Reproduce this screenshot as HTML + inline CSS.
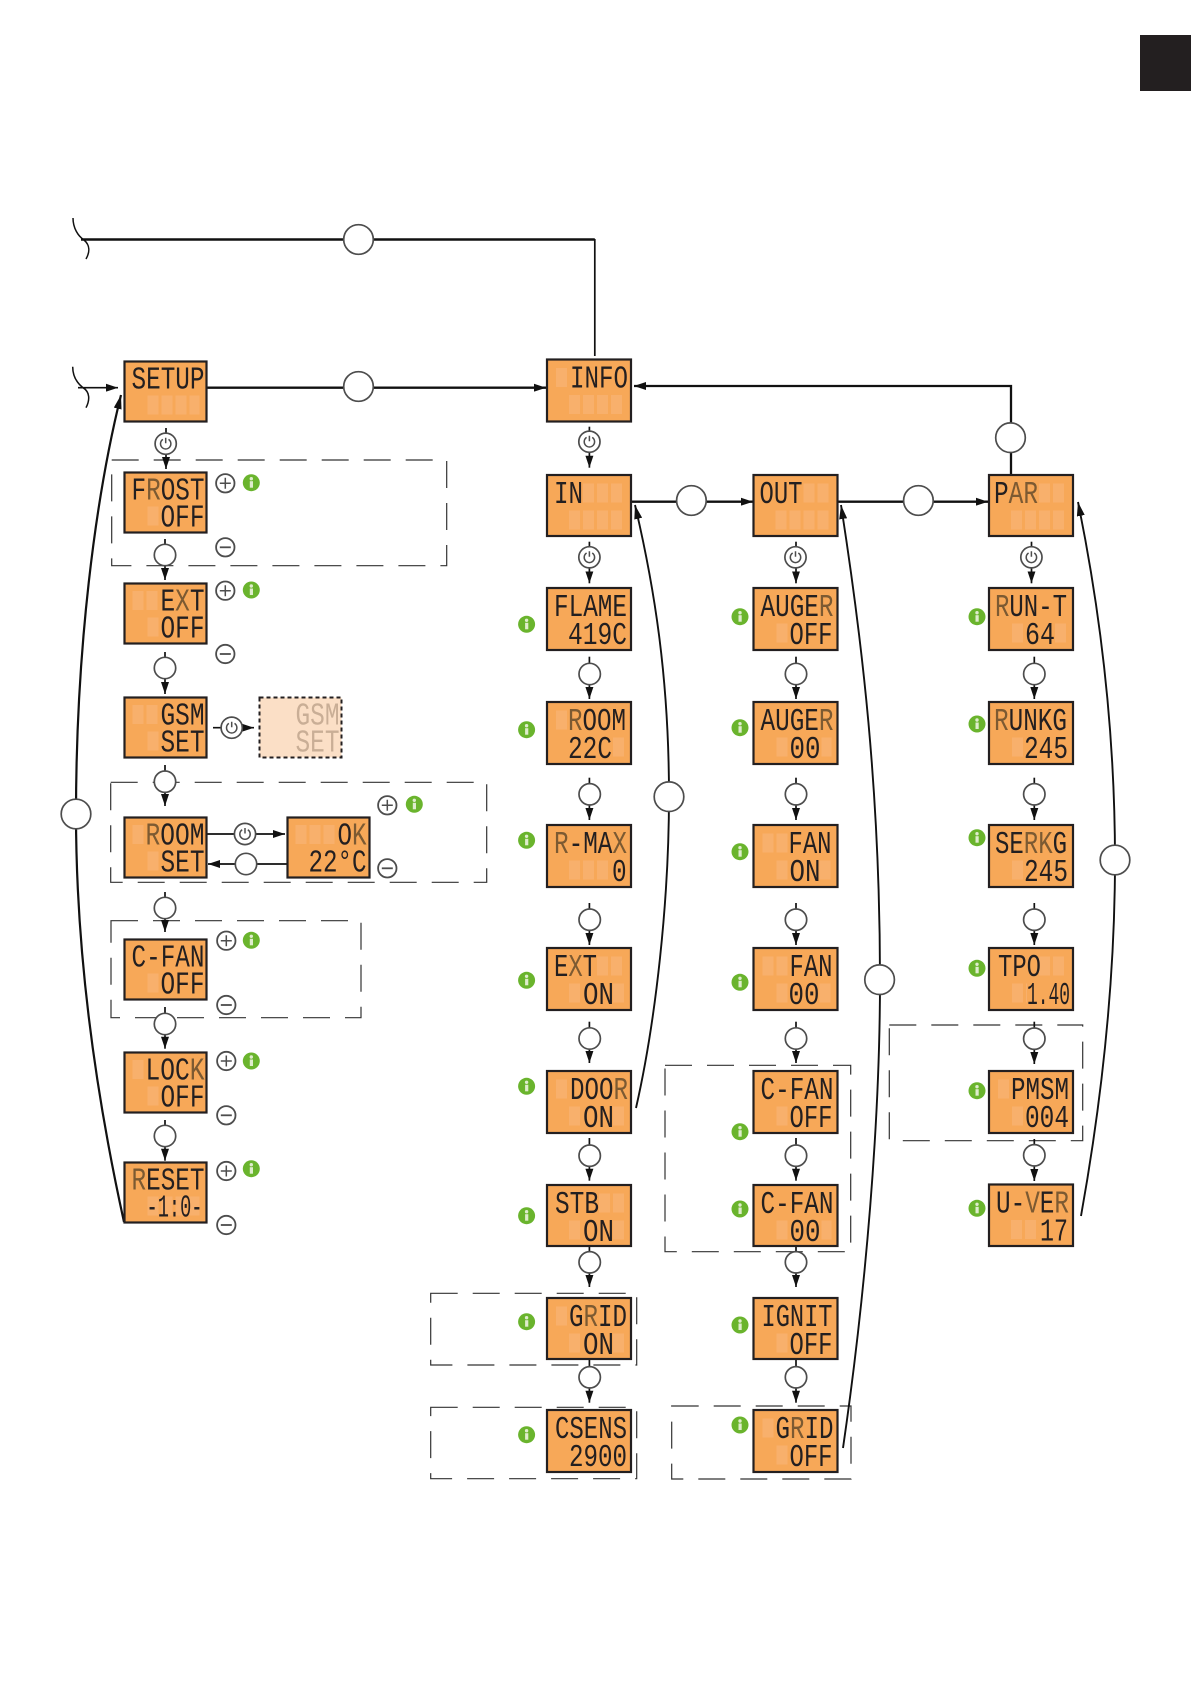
<!DOCTYPE html>
<html lang="en">
<head>
<meta charset="utf-8">
<title>Menu flow diagram</title>
<style>
html,body{margin:0;padding:0;background:#fff}
svg{display:block}
.box{fill:#f7a858;stroke:#231f20;stroke-width:2.2}
.g{fill:none;stroke:#f8b06c;stroke-width:19;stroke-dasharray:11 3}
.l{font-family:"Liberation Mono",monospace;font-size:31.500px;fill:#231f20}
.b{fill:#7c5a32}
.w{fill:none;stroke:#111;stroke-width:1.7}
.t{fill:none;stroke:#111;stroke-width:2.3}
.c{fill:#fff;stroke:#4d4d4d;stroke-width:1.7}
.d{fill:none;stroke:#333;stroke-width:1.2;stroke-dasharray:27 15}
</style>
</head>
<body>
<svg xmlns="http://www.w3.org/2000/svg" width="1191" height="1684" viewBox="0 0 1191 1684">
<defs>
<marker id="a" markerUnits="userSpaceOnUse" viewBox="0 0 12 8" refX="12" refY="4" markerWidth="12" markerHeight="8" orient="auto"><path d="M0 0L12 4L0 8Z" fill="#111"/></marker>
<marker id="e" markerUnits="userSpaceOnUse" viewBox="0 0 14 8" refX="14" refY="4" markerWidth="14" markerHeight="8" orient="auto"><path d="M0 0L14 4L0 8Z" fill="#111"/></marker>
<g id="p"><circle r="10.6" class="c"/><path d="M-2.800-4.300A5.200 5.200 0 1 0 2.800-4.300M0-6V-.5" fill="none" stroke="#4d4d4d" stroke-width="1.500"/></g>
<g id="n"><circle r="10.7" class="c"/></g>
<g id="B"><circle r="14.8" class="c"/></g>
<g id="plus"><circle r="9.2" fill="#fff" stroke="#4d4d4d" stroke-width="1.8"/><path d="M-5.500 0H5.500M0-5.500V5.500" stroke="#4d4d4d" stroke-width="1.5"/></g>
<g id="minus"><circle r="9.2" fill="#fff" stroke="#4d4d4d" stroke-width="1.8"/><path d="M-5.500 0H5.500" stroke="#4d4d4d" stroke-width="1.800"/></g>
<g id="i"><circle r="8.500" fill="#6ab42d"/><rect x="-1.500" y="-1.500" width="3.200" height="6.500" fill="#dfeccd"/><circle cy="-4" r="1.700" fill="#dfeccd"/></g>
</defs>

<rect x="1140" y="35" width="51" height="56" fill="#231f20"/>

<!-- dashed groups -->
<rect class="d" x="111.700" y="460" width="335" height="105.700"/>
<rect class="d" x="110.700" y="782.300" width="376" height="100"/>
<rect class="d" x="111" y="920.700" width="250" height="97"/>
<rect class="d" x="430.700" y="1293.300" width="206" height="71.700"/>
<rect class="d" x="430.700" y="1407.300" width="206" height="71.400"/>
<rect class="d" x="665" y="1065.300" width="185.700" height="186.400"/>
<rect class="d" x="671.700" y="1406" width="179.300" height="73"/>
<rect class="d" x="889.300" y="1025" width="193.400" height="115.700"/>

<!-- long connectors -->
<path d="M73 218C73 228 78 236 84 240C90 245 90 252 86 259" fill="none" stroke="#111" stroke-width="1.500"/>
<path d="M72.700 366.700C72.700 376 77 383 83 387.700C90 392 90 400 86 407.700" fill="none" stroke="#111" stroke-width="1.500"/>
<path d="M81 239.500H594.800" fill="none" stroke="#111" stroke-width="2.600"/>
<path d="M594.800 239V356" class="w"/>
<path d="M78 387.700H118" class="w" marker-end="url(#a)"/>
<path d="M207 387.700H546" class="t" marker-end="url(#a)"/>
<path d="M1011 475V386H634" class="t" marker-end="url(#a)"/>
<path d="M632 501.700H753" class="t" marker-end="url(#a)"/>
<path d="M838 501.700H988" class="t" marker-end="url(#a)"/>
<path d="M124 1222C95 1090 76 950 76 814C76 650 95 500 121 395" fill="none" stroke="#111" stroke-width="2.200" marker-end="url(#e)"/>
<path d="M636 1108C656 1020 669 900 669 796C669 680 655 590 635 505" fill="none" stroke="#111" stroke-width="1.900" marker-end="url(#e)"/>
<path d="M843 1448C866 1290 880 1120 880 980C880 790 862 640 841 505" fill="none" stroke="#111" stroke-width="1.900" marker-end="url(#e)"/>
<path d="M1081 1216C1100 1110 1115 990 1115 860C1115 720 1098 600 1078 502" fill="none" stroke="#111" stroke-width="1.900" marker-end="url(#e)"/>

<!-- short connectors col 1 -->
<g class="w">
<path d="M166 428V469" marker-end="url(#a)"/><path d="M165 539V580" marker-end="url(#a)"/><path d="M165 652V694" marker-end="url(#a)"/><path d="M165 765V806" marker-end="url(#a)"/><path d="M165 892V932" marker-end="url(#a)"/><path d="M165 1007V1048.700" marker-end="url(#a)"/><path d="M165 1120V1160.700" marker-end="url(#a)"/>
<path d="M213 727.700H254" marker-end="url(#a)"/><path d="M206 834H285" marker-end="url(#a)"/><path d="M287 864H208" marker-end="url(#a)"/>
<!-- col 2 -->
<path d="M589.400 426.700V467.700" marker-end="url(#a)"/><path d="M589.400 541.700V583.300" marker-end="url(#a)"/><path d="M589.400 656.700V699" marker-end="url(#a)"/><path d="M589.400 777.700V820" marker-end="url(#a)"/><path d="M589.400 903V945" marker-end="url(#a)"/><path d="M589.400 1021.700V1063" marker-end="url(#a)"/><path d="M589.400 1138V1180.700" marker-end="url(#a)"/><path d="M589.400 1246V1287" marker-end="url(#a)"/><path d="M589.400 1359V1402.700" marker-end="url(#a)"/>
<!-- col 3 -->
<path d="M796 541.700V583.300" marker-end="url(#a)"/><path d="M796 656.700V699" marker-end="url(#a)"/><path d="M796 777.700V820" marker-end="url(#a)"/><path d="M796 903V945" marker-end="url(#a)"/><path d="M796 1021.700V1063" marker-end="url(#a)"/><path d="M796 1138V1180.700" marker-end="url(#a)"/><path d="M796 1246V1287" marker-end="url(#a)"/><path d="M796 1359V1402.700" marker-end="url(#a)"/>
<!-- col 4 -->
<path d="M1031.500 541.700V583.300" marker-end="url(#a)"/><path d="M1034.300 656.700V699" marker-end="url(#a)"/><path d="M1034.300 777.700V820" marker-end="url(#a)"/><path d="M1034.300 903V945" marker-end="url(#a)"/><path d="M1034.300 1021.700V1064" marker-end="url(#a)"/><path d="M1034.300 1139V1181" marker-end="url(#a)"/>
</g>

<!-- big circles -->
<use href="#B" x="358.500" y="239.500"/><use href="#B" x="358.500" y="386.500"/><use href="#B" x="1010.500" y="437.700"/><use href="#B" x="691.400" y="500.500"/><use href="#B" x="918.400" y="500.500"/><use href="#B" x="76" y="814"/><use href="#B" x="669" y="796.700"/><use href="#B" x="879.600" y="979.700"/><use href="#B" x="1115" y="860"/>

<!-- power circles -->
<use href="#p" x="165.700" y="443.700"/><use href="#p" x="231.700" y="727.700"/><use href="#p" x="245" y="834"/><use href="#p" x="589.400" y="441.700"/><use href="#p" x="589.400" y="557.300"/><use href="#p" x="795.500" y="557.300"/><use href="#p" x="1031.400" y="557.300"/>

<!-- small circles -->
<use href="#n" x="165" y="555"/><use href="#n" x="165" y="668"/><use href="#n" x="165" y="781.700"/><use href="#n" x="165" y="908"/><use href="#n" x="165" y="1024"/><use href="#n" x="165" y="1136"/><use href="#n" x="246" y="864"/>
<use href="#n" x="589.700" y="674"/><use href="#n" x="589.700" y="794.300"/><use href="#n" x="589.700" y="919.700"/><use href="#n" x="589.700" y="1038.500"/><use href="#n" x="589.700" y="1155.700"/><use href="#n" x="589.700" y="1262.300"/><use href="#n" x="589.700" y="1377.300"/>
<use href="#n" x="796" y="674"/><use href="#n" x="796" y="794.300"/><use href="#n" x="796" y="919.700"/><use href="#n" x="796" y="1038.500"/><use href="#n" x="796" y="1155.700"/><use href="#n" x="796" y="1262.300"/><use href="#n" x="796" y="1377.300"/>
<use href="#n" x="1034.300" y="674"/><use href="#n" x="1034.300" y="794.300"/><use href="#n" x="1034.300" y="919.700"/><use href="#n" x="1034.300" y="1038.700"/><use href="#n" x="1034.300" y="1155.300"/>

<!-- plus / minus -->
<use href="#plus" x="225.300" y="483.300"/><use href="#minus" x="225.300" y="547.300"/><use href="#plus" x="225.300" y="590.700"/><use href="#minus" x="225.300" y="654"/><use href="#plus" x="387.300" y="805.300"/><use href="#minus" x="387.300" y="868.300"/><use href="#plus" x="226.300" y="940.700"/><use href="#minus" x="226.300" y="1005"/><use href="#plus" x="226.300" y="1061"/><use href="#minus" x="226.300" y="1115.300"/><use href="#plus" x="226.300" y="1171"/><use href="#minus" x="226.300" y="1225"/>

<!-- info -->
<use href="#i" x="251.300" y="482.700"/><use href="#i" x="251.300" y="590"/><use href="#i" x="414.300" y="804.300"/><use href="#i" x="251.300" y="940.300"/><use href="#i" x="251.300" y="1061"/><use href="#i" x="251.300" y="1168.700"/>
<use href="#i" x="526.600" y="624.300"/><use href="#i" x="526.600" y="729.700"/><use href="#i" x="526.600" y="840.300"/><use href="#i" x="526.600" y="980.300"/><use href="#i" x="526.600" y="1086.300"/><use href="#i" x="526.600" y="1215.700"/><use href="#i" x="526.600" y="1321.700"/><use href="#i" x="526.600" y="1434.700"/>
<use href="#i" x="740" y="616.700"/><use href="#i" x="740" y="727.700"/><use href="#i" x="740" y="851.700"/><use href="#i" x="740" y="982.300"/><use href="#i" x="740" y="1131.700"/><use href="#i" x="740" y="1209"/><use href="#i" x="740" y="1325"/><use href="#i" x="740" y="1425"/>
<use href="#i" x="977" y="616.700"/><use href="#i" x="977" y="724"/><use href="#i" x="977" y="837.700"/><use href="#i" x="977" y="968.300"/><use href="#i" x="977" y="1090.700"/><use href="#i" x="977" y="1208.300"/>

<!-- column 1 boxes -->
<g transform="translate(124.500 361.500)"><rect class="box" width="82" height="60"/><path class="g" d="M23 43.500H75"/><text class="l" x="7" y="27" textLength="73" lengthAdjust="spacingAndGlyphs">SETUP</text></g>
<g transform="translate(124.500 472.500)"><rect class="box" width="82" height="60"/><path class="g" d="M23 43.500H50"/><text class="l" x="7" y="27" textLength="73" lengthAdjust="spacingAndGlyphs">F<tspan class="b">R</tspan>OST</text><text class="l" x="36" y="54" textLength="44" lengthAdjust="spacingAndGlyphs">OFF</text></g>
<g transform="translate(124.500 583.500)"><rect class="box" width="82" height="60"/><path class="g" d="M8 17H36M23 43.500H36"/><text class="l" x="36" y="27" textLength="44" lengthAdjust="spacingAndGlyphs">E<tspan class="b">X</tspan>T</text><text class="l" x="36" y="54" textLength="44" lengthAdjust="spacingAndGlyphs">OFF</text></g>
<g transform="translate(124.500 697.500)"><rect class="box" width="82" height="60"/><path class="g" d="M8 17H36M23 43.500H36"/><text class="l" x="36" y="27" textLength="44" lengthAdjust="spacingAndGlyphs">GSM</text><text class="l" x="36" y="54" textLength="44" lengthAdjust="spacingAndGlyphs">SET</text></g>
<g transform="translate(259.500 697.500)"><rect width="82" height="60" fill="#fbdfc6" stroke="#231f20" stroke-width="2" stroke-dasharray="4 3"/><text class="l" style="fill:#c9ae96" x="36" y="27" textLength="44" lengthAdjust="spacingAndGlyphs">GSM</text><text class="l" style="fill:#c9ae96" x="36" y="54" textLength="44" lengthAdjust="spacingAndGlyphs">SET</text></g>
<g transform="translate(124.500 817.500)"><rect class="box" width="82" height="60"/><path class="g" d="M8 17H20M23 43.500H36"/><text class="l" x="21" y="27" textLength="59" lengthAdjust="spacingAndGlyphs"><tspan class="b">R</tspan>OOM</text><text class="l" x="36" y="54" textLength="44" lengthAdjust="spacingAndGlyphs">SET</text></g>
<g transform="translate(287.500 817.500)"><rect class="box" width="82" height="60"/><path class="g" d="M8 17H50"/><text class="l" x="50" y="27" textLength="29" lengthAdjust="spacingAndGlyphs">O<tspan class="b">K</tspan></text><text class="l" x="21" y="54" textLength="58" lengthAdjust="spacingAndGlyphs">22°C</text></g>
<g transform="translate(124.500 939.500)"><rect class="box" width="82" height="60"/><path class="g" d="M23 43.500H36"/><text class="l" x="7" y="27" textLength="73" lengthAdjust="spacingAndGlyphs">C-FAN</text><text class="l" x="36" y="54" textLength="44" lengthAdjust="spacingAndGlyphs">OFF</text></g>
<g transform="translate(124.500 1052.500)"><rect class="box" width="82" height="60"/><path class="g" d="M8 17H20M23 43.500H36"/><text class="l" x="21" y="27" textLength="59" lengthAdjust="spacingAndGlyphs">LOC<tspan class="b">K</tspan></text><text class="l" x="36" y="54" textLength="44" lengthAdjust="spacingAndGlyphs">OFF</text></g>
<g transform="translate(124.500 1162.500)"><rect class="box" width="82" height="60"/><path class="g" d="M23 43.500H75"/><text class="l" x="7" y="27" textLength="73" lengthAdjust="spacingAndGlyphs"><tspan class="b">R</tspan>ESET</text><text class="l" x="22" y="54" textLength="56" lengthAdjust="spacingAndGlyphs">-1:0-</text></g>

<!-- column 2 boxes -->
<g transform="translate(547 359.500)"><rect class="box" width="84" height="62"/><path class="g" d="M9 18H22M22 45H78"/><text class="l" x="23" y="28" textLength="58" lengthAdjust="spacingAndGlyphs">INFO</text></g>
<g transform="translate(547 475)"><rect class="box" width="84" height="61"/><path class="g" d="M36 18H78M22 45H78"/><text class="l" x="7" y="28" textLength="29" lengthAdjust="spacingAndGlyphs">IN</text></g>
<g transform="translate(547 588)"><rect class="box" width="84" height="62"/><text class="l" x="7" y="28" textLength="73" lengthAdjust="spacingAndGlyphs">FLAME</text><text class="l" x="21" y="56" textLength="59" lengthAdjust="spacingAndGlyphs">419C</text></g>
<g transform="translate(547 702)"><rect class="box" width="84" height="62"/><path class="g" d="M9 18H21M66 45H78"/><text class="l" x="21" y="28" textLength="58" lengthAdjust="spacingAndGlyphs"><tspan class="b">R</tspan>OOM</text><text class="l" x="21" y="56" textLength="44" lengthAdjust="spacingAndGlyphs">22C</text></g>
<g transform="translate(547 825)"><rect class="box" width="84" height="62"/><path class="g" d="M22 45H64"/><text class="l" x="7" y="28" textLength="73" lengthAdjust="spacingAndGlyphs"><tspan class="b">R</tspan>-MA<tspan class="b">X</tspan></text><text class="l" x="65" y="56" textLength="14.600" lengthAdjust="spacingAndGlyphs">0</text></g>
<g transform="translate(547 948)"><rect class="box" width="84" height="62"/><path class="g" d="M50 18H78M22 45H36M66 45H78"/><text class="l" x="7" y="28" textLength="43" lengthAdjust="spacingAndGlyphs">E<tspan class="b">X</tspan>T</text><text class="l" x="36" y="56" textLength="31" lengthAdjust="spacingAndGlyphs">ON</text></g>
<g transform="translate(547 1071)"><rect class="box" width="84" height="62"/><path class="g" d="M9 18H22M22 45H36M66 45H78"/><text class="l" x="23" y="28" textLength="58" lengthAdjust="spacingAndGlyphs">DOO<tspan class="b">R</tspan></text><text class="l" x="36" y="56" textLength="31" lengthAdjust="spacingAndGlyphs">ON</text></g>
<g transform="translate(547 1185)"><rect class="box" width="84" height="61"/><path class="g" d="M52 18H78M22 45H36M66 45H78"/><text class="l" x="8" y="28" textLength="44" lengthAdjust="spacingAndGlyphs">STB</text><text class="l" x="36" y="56" textLength="31" lengthAdjust="spacingAndGlyphs">ON</text></g>
<g transform="translate(547 1298)"><rect class="box" width="84" height="61"/><path class="g" d="M9 18H22M22 45H36M66 45H78"/><text class="l" x="22" y="28" textLength="58" lengthAdjust="spacingAndGlyphs">G<tspan class="b">R</tspan>ID</text><text class="l" x="36" y="56" textLength="31" lengthAdjust="spacingAndGlyphs">ON</text></g>
<g transform="translate(547 1410)"><rect class="box" width="84" height="62"/><text class="l" x="8" y="28" textLength="72" lengthAdjust="spacingAndGlyphs">CSENS</text><text class="l" x="22" y="56" textLength="58" lengthAdjust="spacingAndGlyphs">2900</text></g>

<!-- column 3 boxes -->
<g transform="translate(753.500 475)"><rect class="box" width="84" height="61"/><path class="g" d="M50 18H78M22 45H78"/><text class="l" x="6" y="28" textLength="43" lengthAdjust="spacingAndGlyphs">OUT</text></g>
<g transform="translate(753.500 588)"><rect class="box" width="84" height="62"/><path class="g" d="M23 45H36"/><text class="l" x="7" y="28" textLength="73" lengthAdjust="spacingAndGlyphs">AUGE<tspan class="b">R</tspan></text><text class="l" x="36" y="56" textLength="43" lengthAdjust="spacingAndGlyphs">OFF</text></g>
<g transform="translate(753.500 702)"><rect class="box" width="84" height="62"/><path class="g" d="M23 45H36M68 45H78"/><text class="l" x="7" y="28" textLength="73" lengthAdjust="spacingAndGlyphs">AUGE<tspan class="b">R</tspan></text><text class="l" x="36" y="56" textLength="31" lengthAdjust="spacingAndGlyphs">00</text></g>
<g transform="translate(753.500 825)"><rect class="box" width="84" height="62"/><path class="g" d="M9 18H35M23 45H36M66 45H78"/><text class="l" x="35" y="28" textLength="43" lengthAdjust="spacingAndGlyphs">FAN</text><text class="l" x="36" y="56" textLength="31" lengthAdjust="spacingAndGlyphs">ON</text></g>
<g transform="translate(753.500 948)"><rect class="box" width="84" height="62"/><path class="g" d="M9 18H36M23 45H36M66 45H78"/><text class="l" x="36" y="28" textLength="43" lengthAdjust="spacingAndGlyphs">FAN</text><text class="l" x="35" y="56" textLength="31" lengthAdjust="spacingAndGlyphs">00</text></g>
<g transform="translate(753.500 1071)"><rect class="box" width="84" height="62"/><path class="g" d="M23 45H36"/><text class="l" x="7" y="28" textLength="73" lengthAdjust="spacingAndGlyphs">C-FAN</text><text class="l" x="36" y="56" textLength="43" lengthAdjust="spacingAndGlyphs">OFF</text></g>
<g transform="translate(753.500 1185)"><rect class="box" width="84" height="61"/><path class="g" d="M23 45H36M68 45H78"/><text class="l" x="7" y="28" textLength="73" lengthAdjust="spacingAndGlyphs">C-FAN</text><text class="l" x="36" y="56" textLength="31" lengthAdjust="spacingAndGlyphs">00</text></g>
<g transform="translate(753.500 1298)"><rect class="box" width="84" height="61"/><path class="g" d="M23 45H36"/><text class="l" x="8" y="28" textLength="71" lengthAdjust="spacingAndGlyphs">IGNIT</text><text class="l" x="36" y="56" textLength="43" lengthAdjust="spacingAndGlyphs">OFF</text></g>
<g transform="translate(753.500 1410)"><rect class="box" width="84" height="62"/><path class="g" d="M9 18H22M23 45H36"/><text class="l" x="22" y="28" textLength="58" lengthAdjust="spacingAndGlyphs">G<tspan class="b">R</tspan>ID</text><text class="l" x="36" y="56" textLength="43" lengthAdjust="spacingAndGlyphs">OFF</text></g>

<!-- column 4 boxes -->
<g transform="translate(989 475)"><rect class="box" width="84" height="61"/><path class="g" d="M50 18H78M22 45H78"/><text class="l" x="5" y="28" textLength="44" lengthAdjust="spacingAndGlyphs">P<tspan class="b">A</tspan><tspan class="b">R</tspan></text></g>
<g transform="translate(989 588)"><rect class="box" width="84" height="62"/><path class="g" d="M23 45H36M66 45H78"/><text class="l" x="6" y="28" textLength="72" lengthAdjust="spacingAndGlyphs"><tspan class="b">R</tspan>UN-T</text><text class="l" x="36" y="56" textLength="30" lengthAdjust="spacingAndGlyphs">64</text></g>
<g transform="translate(989 702)"><rect class="box" width="84" height="62"/><path class="g" d="M23 45H35"/><text class="l" x="5" y="28" textLength="73" lengthAdjust="spacingAndGlyphs"><tspan class="b">R</tspan>UNKG</text><text class="l" x="35" y="56" textLength="44" lengthAdjust="spacingAndGlyphs">245</text></g>
<g transform="translate(989 825)"><rect class="box" width="84" height="62"/><path class="g" d="M23 45H35"/><text class="l" x="6" y="28" textLength="72" lengthAdjust="spacingAndGlyphs">SE<tspan class="b">RK</tspan>G</text><text class="l" x="35" y="56" textLength="44" lengthAdjust="spacingAndGlyphs">245</text></g>
<g transform="translate(989 948)"><rect class="box" width="84" height="62"/><path class="g" d="M50 18H78M23 45H38"/><text class="l" x="9" y="28" textLength="43" lengthAdjust="spacingAndGlyphs">TPO</text><text class="l" x="38" y="56" textLength="43" lengthAdjust="spacingAndGlyphs">1.40</text></g>
<g transform="translate(989 1071)"><rect class="box" width="84" height="62"/><path class="g" d="M9 18H22M23 45H36"/><text class="l" x="22" y="28" textLength="58" lengthAdjust="spacingAndGlyphs">PMSM</text><text class="l" x="36" y="56" textLength="44" lengthAdjust="spacingAndGlyphs">004</text></g>
<g transform="translate(989 1184.500)"><rect class="box" width="84" height="61.500"/><path class="g" d="M22 45H50"/><text class="l" x="7" y="28" textLength="73" lengthAdjust="spacingAndGlyphs">U-<tspan class="b">V</tspan>E<tspan class="b">R</tspan></text><text class="l" x="51" y="56" textLength="28" lengthAdjust="spacingAndGlyphs">17</text></g>
</svg>
</body>
</html>
